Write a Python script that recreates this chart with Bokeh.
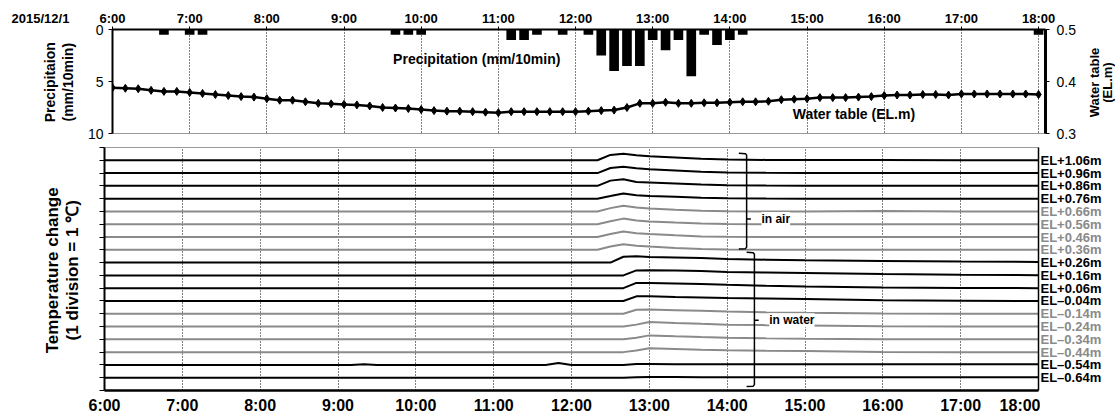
import numpy as np
from bokeh.plotting import figure
from bokeh.models import (Range1d, LinearAxis, FixedTicker, Label, ColumnDataSource,
                          NumeralTickFormatter)
from bokeh.layouts import column, row
from bokeh.core.properties import value
from bokeh.embed import file_html
from bokeh.resources import INLINE

# ---------------- data ----------------
DATE_LABEL = "2015/12/1"
HOURS = list(range(6, 19))
HOUR_LABELS = [f"{h}:00" for h in HOURS]

# precipitation (mm / 10 min), only non-zero intervals
PRECIP_TIMES = ["06:40", "07:00", "07:10", "09:40", "09:50", "10:00", "11:10", "11:20",
                "11:30", "11:50", "12:10", "12:20", "12:30", "12:40", "12:50", "13:00",
                "13:10", "13:20", "13:30", "13:40", "13:50", "14:00", "14:10", "18:00"]
PRECIP_MM = [0.5, 0.5, 0.5, 0.5, 0.5, 0.5, 1.0, 1.0,
             0.5, 0.5, 0.5, 2.5, 4.0, 3.5, 3.5, 1.0,
             2.0, 1.0, 4.5, 0.5, 1.5, 1.0, 0.5, 0.5]

# water table (EL.m), every 10 min from 6:00 to 18:00
WATER_TABLE = [0.388, 0.387, 0.386, 0.383, 0.381, 0.381,   # 6:00-6:50
               0.379, 0.377, 0.375, 0.373, 0.371, 0.370,   # 7
               0.367, 0.364, 0.364, 0.361, 0.358, 0.357,   # 8
               0.356, 0.355, 0.353, 0.350, 0.349, 0.348,   # 9
               0.346, 0.344, 0.343, 0.343, 0.342, 0.341,   # 10
               0.340, 0.342, 0.342, 0.342, 0.342, 0.342,   # 11
               0.342, 0.343, 0.344, 0.345, 0.350, 0.358,   # 12
               0.358, 0.360, 0.358, 0.358, 0.359, 0.359,   # 13
               0.360, 0.361, 0.361, 0.362, 0.365, 0.366,   # 14
               0.367, 0.369, 0.369, 0.369, 0.370, 0.371,   # 15
               0.373, 0.374, 0.374, 0.375, 0.375, 0.374,   # 16
               0.376, 0.376, 0.376, 0.376, 0.376, 0.376,   # 17
               0.375]                                      # 18:00
WT_TIMES = [f"{6 + i // 6:02d}:{(i % 6) * 10:02d}" for i in range(len(WATER_TABLE))]

# temperature change (deg C) at sampled times
TEMP_TIMES = ["06:00", "09:10", "09:20", "09:30", "11:40", "11:50", "12:00", "12:20",
              "12:30", "12:40", "12:50", "13:00", "13:20", "13:40", "14:00", "14:30",
              "15:00", "16:00", "17:00", "18:00"]
SENSORS = ["EL+1.06m", "EL+0.96m", "EL+0.86m", "EL+0.76m", "EL+0.66m", "EL+0.56m",
           "EL+0.46m", "EL+0.36m", "EL+0.26m", "EL+0.16m", "EL+0.06m", "EL\u20130.04m",
           "EL\u20130.14m", "EL\u20130.24m", "EL\u20130.34m", "EL\u20130.44m",
           "EL\u20130.54m", "EL\u20130.64m"]
SENSOR_SHADE = ["dark", "dark", "dark", "dark", "light", "light", "light", "light",
                "dark", "dark", "dark", "dark", "light", "light", "light", "light",
                "dark", "dark"]
TEMP_CHANGE = [
    [0, 0, 0, 0, 0, 0, 0, 0, 0.42, 0.52, 0.40, 0.32, 0.22, 0.12, 0.06, 0.03, 0.02, 0.02, 0.00, 0.00],
    [0, 0, 0, 0, 0, 0, 0, 0, 0.40, 0.50, 0.38, 0.30, 0.20, 0.10, 0.04, 0.02, 0.01, 0.00, 0.00, 0.00],
    [0, 0, 0, 0, 0, 0, 0, 0, 0.41, 0.52, 0.30, 0.26, 0.18, 0.10, 0.04, 0.02, 0.01, 0.00, 0.00, 0.00],
    [0, 0, 0, 0, 0, 0, 0, 0, 0.20, 0.41, 0.26, 0.20, 0.14, 0.08, 0.03, 0.01, 0.00, 0.00, 0.00, 0.00],
    [0, 0, 0, 0, 0, 0, 0, 0, 0.26, 0.44, 0.30, 0.23, 0.14, 0.06, 0.02, 0.00, 0.00, 0.03, 0.00, 0.00],
    [0, 0, 0, 0, 0, 0, 0, 0, 0.23, 0.44, 0.30, 0.22, 0.13, 0.05, 0.02, 0.00, 0.00, 0.00, 0.00, 0.00],
    [0, 0, 0, 0, 0, 0, 0, 0, 0.23, 0.44, 0.30, 0.23, 0.13, 0.05, 0.02, 0.00, 0.00, 0.00, 0.00, 0.00],
    [0, 0, 0, 0, 0, 0, 0, 0, 0.26, 0.44, 0.32, 0.26, 0.15, 0.07, 0.03, 0.01, 0.00, 0.00, 0.00, 0.00],
    [0, 0, 0, 0, 0, 0, 0, 0, 0.00, 0.46, 0.49, 0.44, 0.40, 0.36, 0.28, 0.23, 0.18, 0.13, 0.08, 0.05],
    [0, 0, 0, 0, 0, 0, 0, 0, 0.00, 0.00, 0.39, 0.41, 0.38, 0.35, 0.26, 0.22, 0.18, 0.10, 0.05, 0.02],
    [0, 0, 0, 0, 0, 0, 0, 0, 0.00, 0.00, 0.41, 0.41, 0.37, 0.32, 0.26, 0.19, 0.13, 0.05, 0.02, 0.00],
    [0, 0, 0, 0, 0, 0, 0, 0, 0.00, 0.00, 0.36, 0.36, 0.31, 0.27, 0.23, 0.19, 0.15, 0.05, 0.02, 0.00],
    [0, 0, 0, 0, 0, 0, 0, 0, 0.00, 0.00, 0.31, 0.33, 0.28, 0.23, 0.18, 0.12, 0.08, 0.02, 0.00, 0.00],
    [0, 0, 0, 0, 0, 0, 0, 0, 0.00, 0.00, 0.15, 0.36, 0.28, 0.21, 0.15, 0.11, 0.08, 0.02, 0.00, 0.00],
    [0, 0, 0, 0, 0, 0, 0, 0, 0.00, 0.00, 0.13, 0.31, 0.24, 0.18, 0.13, 0.08, 0.05, 0.01, 0.00, 0.00],
    [0, 0, 0, 0, 0, 0, 0, 0, 0.00, 0.00, 0.12, 0.31, 0.25, 0.19, 0.15, 0.11, 0.08, 0.02, 0.00, 0.00],
    [0, 0, 0.06, 0, 0, 0.15, 0, 0, 0.00, 0.00, 0.08, 0.08, 0.06, 0.05, 0.05, 0.05, 0.05, 0.05, 0.05, 0.05],
    [0, 0, 0, 0, 0, 0, 0, 0, 0.00, 0.00, 0.03, 0.05, 0.05, 0.04, 0.04, 0.04, 0.04, 0.04, 0.04, 0.04],
]

# bracket annotations (x = time, extents in divisions)
BRACES = [
    {"text": "in air", "time": "14:15", "top": 18.55, "mid": 13.4, "bottom": 11.06},
    {"text": "in water", "time": "14:21", "top": 10.8, "mid": 5.5, "bottom": 0.31},
]

# ---------------- style ----------------
FONT = "Liberation Sans"
BLACK = "#000000"
GRAY = "#8a8a8a"
SHADE_COLOR = {"dark": BLACK, "light": GRAY}
BORDER = "#9a9a9a"
GRID_DASH = "1 2"
H1, H2 = 140, 276
LEFT_W = 84
B1_TOP, B1_BOT = 29, 7
B2_TOP, B2_BOT = 7, 24


def hrs(t):
    h, m = t.split(":")
    return int(h) + int(m) / 60.0


def style_axis(ax, size, bold=True, tick_out=4, line_width=2, standoff=5):
    ax.major_label_text_font = FONT
    ax.major_label_text_font_size = size
    ax.major_label_text_font_style = "bold" if bold else "normal"
    ax.major_label_text_color = BLACK
    ax.major_tick_out = tick_out
    ax.major_tick_in = 0
    ax.minor_tick_line_color = None
    ax.minor_tick_out = 0
    ax.axis_line_width = line_width
    ax.axis_line_color = BLACK
    ax.major_tick_line_color = BLACK
    ax.major_label_standoff = standoff


def add_label(p, text, x, y, size, align="center", bg=None):
    lab = Label(x=x, y=y, text=text, text_font=FONT, text_font_size=size,
                text_font_style="bold", text_color=BLACK,
                text_align=align, text_baseline="middle")
    if bg:
        lab.background_fill_color = bg
    p.add_layout(lab)


def side_fig(width, height, x_range, y_range, top, bottom, above=False):
    f = figure(width=width, height=height, x_range=x_range, y_range=y_range,
               x_axis_location="above" if above else None, y_axis_location=None,
               output_backend="svg", toolbar_location=None, min_border=0,
               min_border_left=0, min_border_right=0,
               min_border_top=top, min_border_bottom=bottom)
    f.outline_line_color = None
    f.grid.visible = False
    f.background_fill_color = "white"
    f.border_fill_color = "white"
    return f


def side_text(f, xs, ys, texts, size, angle=0.0, align="center", colors=None):
    src = ColumnDataSource(dict(x=xs, y=ys, text=texts,
                                color=colors if colors else [BLACK] * len(texts)))
    f.text(x="x", y="y", text="text", source=src, text_font=value(FONT),
           text_font_size=value(size), text_font_style="bold", text_color="color",
           text_align=align, text_baseline="middle", angle=angle)


# ---------------- top panel ----------------
yr1 = Range1d(10, 0)
p1 = figure(width=998, height=H1, x_range=Range1d(6, 18.09), y_range=yr1,
            x_axis_location="above", output_backend="svg", toolbar_location=None,
            min_border_left=20, min_border_right=37, min_border_top=B1_TOP,
            min_border_bottom=B1_BOT)
p1.extra_y_ranges = {"wt": Range1d(0.3, 0.5)}
p1.outline_line_color = BORDER
p1.background_fill_color = "white"
p1.border_fill_color = "white"

p1.xaxis.ticker = FixedTicker(ticks=HOURS)
p1.xaxis.major_label_overrides = dict(zip(HOURS, HOUR_LABELS))
style_axis(p1.xaxis[0], "13px", bold=True, tick_out=3, line_width=2, standoff=1)
p1.yaxis.ticker = FixedTicker(ticks=[0, 5, 10])
style_axis(p1.yaxis[0], "14px", bold=False, tick_out=4, line_width=2, standoff=5)

rax = LinearAxis(y_range_name="wt", ticker=FixedTicker(ticks=[0.3, 0.4, 0.5]),
                 formatter=NumeralTickFormatter(format="0.0"))
style_axis(rax, "14px", bold=False, tick_out=4, line_width=3, standoff=7)
p1.add_layout(rax, "right")

p1.xgrid.ticker = FixedTicker(ticks=HOURS)
p1.xgrid.grid_line_color = BLACK
p1.xgrid.grid_line_dash = GRID_DASH
p1.xgrid.grid_line_width = 1
p1.ygrid.visible = False

p1.vbar(x=[hrs(t) for t in PRECIP_TIMES], width=0.125, top=0, bottom=PRECIP_MM,
        color=BLACK, line_width=0)
wt_x = [hrs(t) for t in WT_TIMES]
p1.line(wt_x, WATER_TABLE, y_range_name="wt", color=BLACK, line_width=2.5)
p1.scatter(wt_x, WATER_TABLE, y_range_name="wt", marker="diamond", size=8, color=BLACK)

add_label(p1, "Precipitation (mm/10min)", 9.636, 2.88, "14px", align="left")
add_label(p1, "Water table (EL.m)", 14.814, 8.08, "14px", align="left")

# left side of top row: date (as an axis label above) and the precipitation title
l1 = side_fig(LEFT_W, H1, Range1d(0, LEFT_W), yr1, B1_TOP, B1_BOT, above=True)
l1.xaxis.ticker = FixedTicker(ticks=[40])
l1.xaxis.major_label_overrides = {40: DATE_LABEL}
style_axis(l1.xaxis[0], "13px", bold=True, tick_out=3, line_width=1, standoff=1)
l1.xaxis.axis_line_color = None
l1.xaxis.major_tick_line_color = None
side_text(l1, [49, 67], [5.07, 5.07], ["Precipitaion", "(mm/10min)"], "14px",
          angle=np.pi / 2)

# right side of top row: water table title
r1 = side_fig(33, H1, Range1d(1082, 1115), yr1, B1_TOP, B1_BOT)
side_text(r1, [1094, 1107], [5.1, 5.1], ["Water table", "(EL.m)"], "13px", angle=np.pi / 2)

# ---------------- bottom panel ----------------
n = len(SENSORS)
yr2 = Range1d(0, n + 1)
p2 = figure(width=956, height=H2, x_range=Range1d(6, 18), y_range=yr2,
            output_backend="svg", toolbar_location=None,
            min_border_left=20, min_border_right=2, min_border_top=B2_TOP,
            min_border_bottom=B2_BOT)
p2.outline_line_color = BORDER
p2.background_fill_color = "white"
p2.border_fill_color = "white"

p2.xaxis.ticker = FixedTicker(ticks=HOURS)
p2.xaxis.major_label_overrides = dict(zip(HOURS, HOUR_LABELS))
style_axis(p2.xaxis[0], "16px", bold=True, tick_out=0, line_width=2.5, standoff=6)
p2.yaxis.ticker = FixedTicker(ticks=list(range(0, n + 2)))
style_axis(p2.yaxis[0], "1px", bold=False, tick_out=5, line_width=2, standoff=0)
p2.yaxis.major_label_text_alpha = 0

rax2 = LinearAxis(ticker=FixedTicker(ticks=[]))
style_axis(rax2, "1px", bold=False, tick_out=0, line_width=1.5, standoff=0)
rax2.major_label_text_alpha = 0
p2.add_layout(rax2, "right")

p2.xgrid.ticker = FixedTicker(ticks=HOURS)
p2.xgrid.grid_line_color = BLACK
p2.xgrid.grid_line_dash = GRID_DASH
p2.xgrid.grid_line_width = 1
p2.ygrid.visible = False

tx = [hrs(t) for t in TEMP_TIMES]
baselines = []
for i, (name, shade, vals) in enumerate(zip(SENSORS, SENSOR_SHADE, TEMP_CHANGE)):
    base = n - i
    baselines.append(base)
    p2.line(tx, [base + v for v in vals], color=SHADE_COLOR[shade], line_width=2)

for b in BRACES:
    x = hrs(b["time"])
    xs = [x - 0.1, x - 0.015, x, x, x + 0.055, x, x, x - 0.015, x - 0.1]
    ys = [b["top"], b["top"] - 0.03, b["top"] - 0.15, b["mid"], b["mid"], b["mid"],
          b["bottom"] + 0.15, b["bottom"] + 0.03, b["bottom"]]
    p2.line(xs, ys, color=BLACK, line_width=1.5)
    add_label(p2, b["text"], x + 0.19, b["mid"], "12px", align="left", bg="white")

l2 = side_fig(LEFT_W, H2, Range1d(0, LEFT_W), yr2, B2_TOP, B2_BOT)
side_text(l2, [52, 72], [9.4, 9.4], ["Temperature change", "(1 division = 1 \u2103)"],
          "17px", angle=np.pi / 2)

r2 = side_fig(75, H2, Range1d(1040, 1115), yr2, B2_TOP, B2_BOT)
side_text(r2, [1040] * n, baselines, SENSORS, "13px", align="left",
          colors=[SHADE_COLOR[s] for s in SENSOR_SHADE])

layout = column(row(l1, p1, r1), row(l2, p2, r2))
open("out.html", "w").write(file_html(layout, INLINE))
